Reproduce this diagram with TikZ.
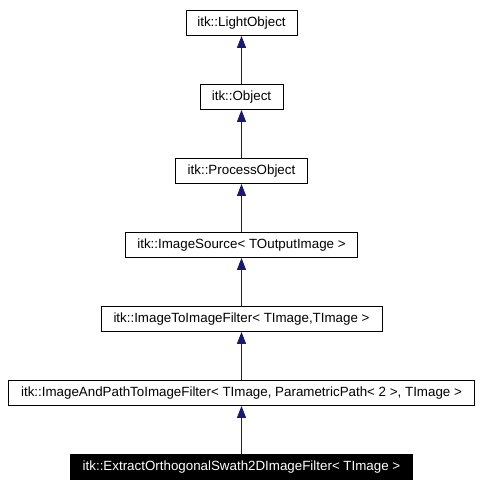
\documentclass[tikz,border=0pt]{standalone}
\usepackage{fontspec}
\setmainfont{Liberation Sans}
\usetikzlibrary{arrows.meta}
\definecolor{edgeblue}{RGB}{25,25,112}
\begin{document}
\begin{tikzpicture}[x=1bp,y=-1bp,node distance=74bp]
		\tikzstyle{cls}=[rectangle,draw,line width=0.8bp,inner xsep=2bp,minimum height=25bp,font=\fontsize{13.4}{15}\selectfont]
		\tikzstyle{this}=[cls,fill=black,text=white]
		\tikzstyle{inherit}=[-{Triangle[width=9bp,length=12bp]},edgeblue,line width=1.1bp]
		\useasboundingbox (0,0) rectangle (482,490);
		\node[cls,minimum width=111bp] (lightobj) at (241.5,23) {itk::LightObject};
		\node[cls,minimum width=83bp] (obj) [below of=lightobj] {itk::Object};
		\node[cls,minimum width=132bp] (procobj) [below of=obj] {itk::ProcessObject};
		\node[cls,minimum width=232bp] (imgsrc) [below of=procobj] {itk::ImageSource< TOutputImage >};
		\node[cls,minimum width=281bp] (imgtoimg) [below of=imgsrc] {itk::ImageToImageFilter< TImage,TImage >};
		\node[cls,minimum width=466bp] (imgpath) [below of=imgtoimg] {itk::ImageAndPathToImageFilter< TImage, ParametricPath< 2 >, TImage >};
		\node[this,minimum width=342bp] (swath) [below of=imgpath] {itk::ExtractOrthogonalSwath2DImageFilter< TImage >};
		\draw[inherit] (obj) -- (lightobj);
		\draw[inherit] (procobj) -- (obj);
		\draw[inherit] (imgsrc) -- (procobj);
		\draw[inherit] (imgtoimg) -- (imgsrc);
		\draw[inherit] (imgpath) -- (imgtoimg);
		\draw[inherit] (swath) -- (imgpath);
		\end{tikzpicture}
\end{document}
